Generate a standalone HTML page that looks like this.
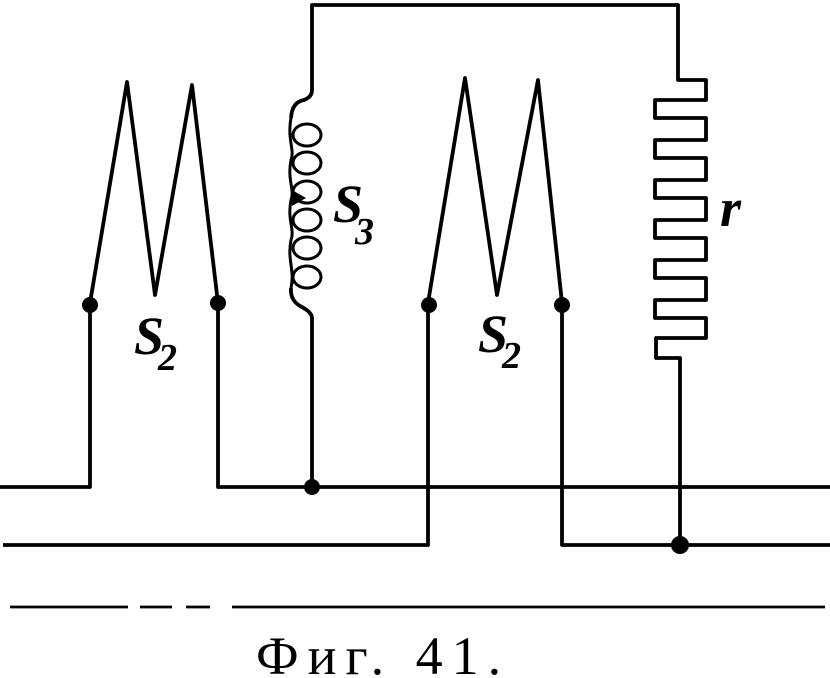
<!DOCTYPE html>
<html><head><meta charset="utf-8"><style>
html,body{margin:0;padding:0;background:#fff;width:830px;height:678px;overflow:hidden}
svg{display:block}
.l{font-family:"Liberation Serif",serif;font-style:italic;font-weight:bold;fill:#000}
.c{font-family:"Liberation Serif",serif;fill:#000}
</style></head><body>
<svg width="830" height="678" viewBox="0 0 830 678" xmlns="http://www.w3.org/2000/svg">
<g fill="none" stroke="#000" stroke-width="3.8" stroke-linejoin="round">
<path d="M0 487 H90 V303 L127 82 L155 295 L192 85 L218 303 V487 H830"/>
<path d="M3 545 H428 V303 L465 78 L497 295 L538 80 L562 303 V545 H830"/>
<path d="M312 487 V318 Q312 312 300 306 Q290 300 291 288"/>
<path d="M291 118 Q292 102 304 100 Q312 97 312 90 V5 H678 V80 H706 V100 H655 V118 H706 V140 H655 V158 H706 V180 H655 V198 H706 V220 H655 V238 H706 V260 H655 V278 H706 V300 H655 V318 H706 V338 H656 V358 H680 V545"/>
</g>
<g fill="none" stroke="#000" stroke-width="3">
<path d="M291 118 C287 140 295 150 291 160 C287 180 295 190 291 200 C287 220 295 230 291 240 C287 260 295 270 291 288"/>
<ellipse cx="307" cy="135" rx="14" ry="11"/>
<ellipse cx="307" cy="163" rx="14" ry="11"/>
<ellipse cx="307" cy="192" rx="14" ry="11"/>
<ellipse cx="307" cy="220" rx="14" ry="11"/>
<ellipse cx="307" cy="248" rx="14" ry="11"/>
<ellipse cx="307" cy="277" rx="14" ry="11"/>
<path stroke-width="2.8" d="M10 607 H128 M140 607 H172 M186 607 H210 M232 607 H825"/>
</g>
<polygon points="292,190 306,198 292,206" fill="#000"/>
<g fill="#000">
<circle cx="90" cy="305" r="8"/><circle cx="218" cy="303" r="8"/>
<circle cx="429" cy="305" r="8"/><circle cx="562" cy="305" r="8"/>
<circle cx="312" cy="487" r="8"/><circle cx="680" cy="545" r="9"/>
</g>
<text class="l" x="134" y="354" font-size="54">S</text>
<text class="l" x="158" y="370" font-size="38">2</text>
<text class="l" x="478" y="352" font-size="54">S</text>
<text class="l" x="502" y="368" font-size="38">2</text>
<text class="l" x="333" y="222" font-size="54">S</text>
<text class="l" x="355" y="244" font-size="38">3</text>
<text class="l" x="720" y="226" font-size="54">r</text>
<text class="c" x="256" y="674" font-size="54" letter-spacing="9">Фиг. 41.</text>
</svg>
</body></html>
